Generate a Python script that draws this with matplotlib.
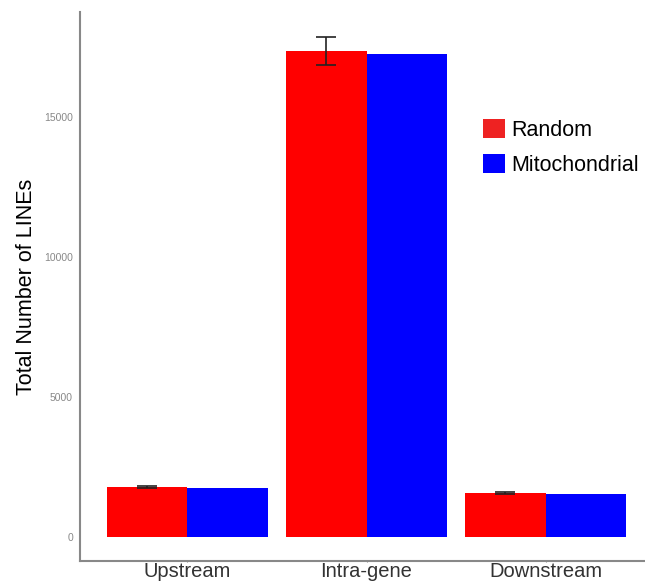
import numpy as np
import matplotlib
matplotlib.use("Agg")
import matplotlib.pyplot as plt
from matplotlib.patches import Patch

regions = ["Upstream", "Intra-gene", "Downstream"]
random_vals = [1790, 17360, 1560]
random_err = [35, 490, 35]
mito_vals = [1765, 17240, 1550]

plt.rcParams['font.family'] = ['Liberation Sans', 'DejaVu Sans']

fig = plt.figure(figsize=(6.45, 5.86), dpi=100)
# axes runs past the right edge, like the cropped original
ax = fig.add_axes([80 / 645, 25 / 586, 573 / 645, 549 / 586])

x = np.arange(1, len(regions) + 1)
w = 0.45
ax.bar(x - w / 2, random_vals, w, color="#ff0000", linewidth=0)
ax.bar(x + w / 2, mito_vals, w, color="#0000ff", linewidth=0)
ax.errorbar(x - w / 2, random_vals, yerr=random_err, fmt="none",
            ecolor="#222222", elinewidth=1.2, capsize=7, capthick=1.2)

ax.set_xlim(0.4, 3.6)
ax.set_ylim(-857, 18750)
ax.set_xticks(x)
ax.set_xticklabels(regions, fontsize=14.5, color="#333333")
ax.set_yticks([0, 5000, 10000, 15000])
ax.set_yticklabels(["0", "5000", "10000", "15000"], fontsize=7.5, color="#888888")
ax.tick_params(axis="y", length=0, pad=5)
ax.tick_params(axis="x", length=2, direction="inout", color="#888888", pad=0)
ax.set_ylabel("Total Number of LINEs", fontsize=15.5, labelpad=5)

for s in ["top", "right"]:
    ax.spines[s].set_visible(False)
for s in ["left", "bottom"]:
    ax.spines[s].set_color("#888888")
    ax.spines[s].set_linewidth(1.5)

handles = [Patch(facecolor="#ee2222", edgecolor="none", label="Random"),
           Patch(facecolor="#0000ff", edgecolor="none", label="Mitochondrial")]
fig.legend(handles=handles, loc="upper left", bbox_to_anchor=(466 / 645, 1 - 102 / 586),
           frameon=False, fontsize=15.5, handlelength=1.0, handleheight=1.0,
           handletextpad=0.3, labelspacing=0.6, borderpad=0.3)

fig.savefig("out.png", dpi=100)
